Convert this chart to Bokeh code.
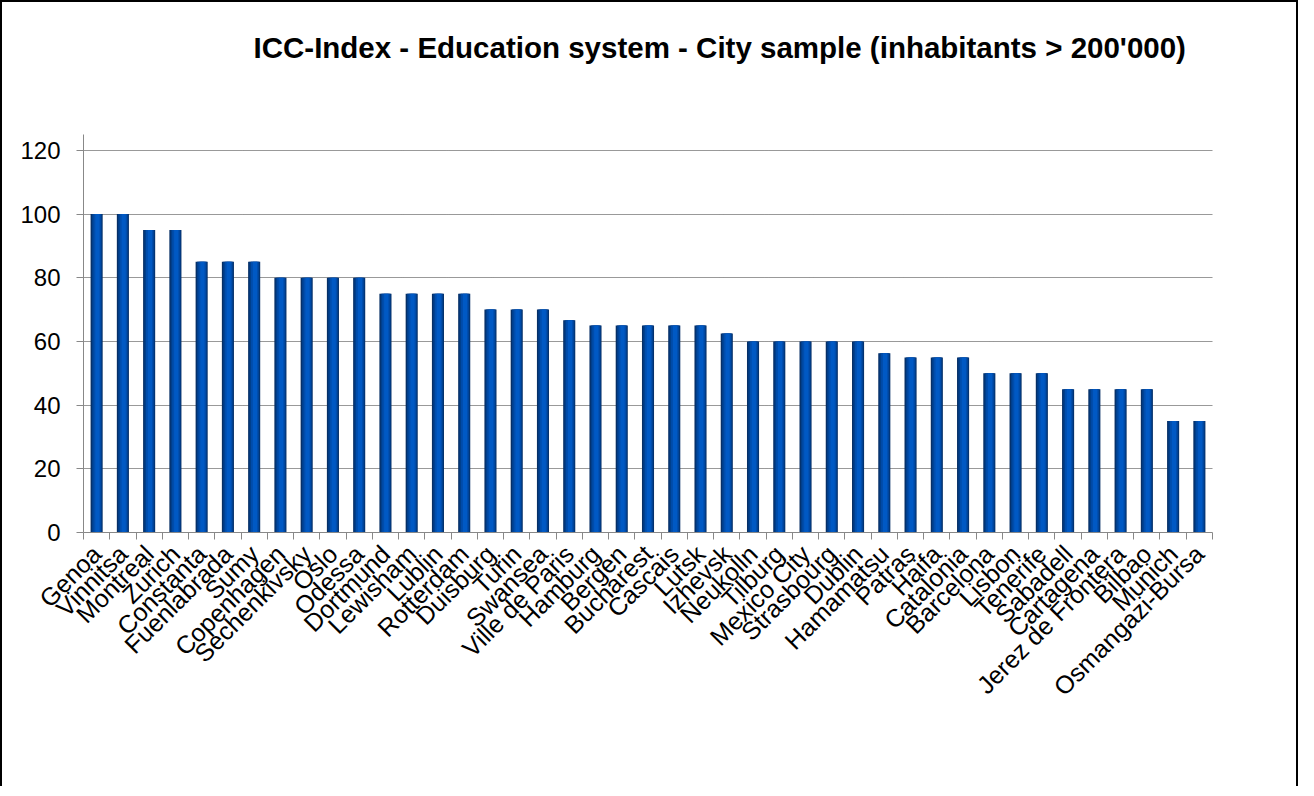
import math
from bokeh.plotting import figure
from bokeh.models import FixedTicker, Range1d, Title, ColumnDataSource
from bokeh.transform import dodge
from bokeh.embed import file_html
from bokeh.resources import INLINE

cities = ["Genoa", "Vinnitsa", "Montreal", "Zurich", "Constanta", "Fuenlabrada", "Sumy",
          "Copenhagen", "Sechenkivsky", "Oslo", "Odessa", "Dortmund", "Lewisham", "Lublin",
          "Rotterdam", "Duisburg", "Turin", "Swansea", "Ville de Paris", "Hamburg", "Bergen",
          "Bucharest", "Cascais", "Lutsk", "Izhevsk", "Neukolln", "Tilburg", "Mexico City",
          "Strasbourg", "Dublin", "Hamamatsu", "Patras", "Haifa", "Catalonia", "Barcelona",
          "Lisbon", "Tenerife", "Sabadell", "Cartagena", "Jerez de Frontera", "Bilbao",
          "Munich", "Osmangazi-Bursa"]
values = [100, 100, 95, 95, 85, 85, 85,
          80, 80, 80, 80, 75, 75, 75,
          75, 70, 70, 70, 66.7, 65, 65,
          65, 65, 65, 62.5, 60, 60, 60,
          60, 60, 56.3, 55, 55, 55, 50,
          50, 50, 45, 45, 45, 45,
          35, 35]
y_ticks = [0, 20, 40, 60, 80, 100, 120]
title_text = "ICC-Index - Education system - City sample (inhabitants > 200'000)"

n = len(cities)
centers = [i + 0.5 for i in range(n)]
src = ColumnDataSource(dict(x=centers, top=values))

FONT = "Liberation Sans"

p = figure(width=1298, height=786, output_backend="svg", toolbar_location=None,
           x_range=Range1d(0, n), y_range=Range1d(0, 125),
           min_border_left=81, min_border_right=88, min_border_top=132, min_border_bottom=256,
           background_fill_color="white", border_fill_color="white")
p.outline_line_color = None
p.styles = {"border-left": "2px solid black", "border-right": "2px solid black",
            "border-top": "2px solid black"}
p.title = None

# simulated cylinder-like shading with layered bars
layers = [(0.46, 0.0, "#062f66"), (0.38, 0.01, "#003f8c"),
          (0.28, 0.02, "#004dac"), (0.16, 0.03, "#0059c4")]
for w, off, col in layers:
    p.vbar(x=dodge("x", off), top="top", bottom=0, width=w, source=src,
           fill_color=col, line_color=None)

# spacer then title (later-added titles sit farther from the frame)
p.add_layout(Title(text=" ", text_font_size="49px", text_font=FONT), "above")
p.add_layout(Title(text=title_text, align="left", offset=170,
                   text_font=FONT, text_font_size="29.5px", text_font_style="bold",
                   text_color="black"), "above")

# y axis
p.yaxis.ticker = FixedTicker(ticks=y_ticks)
p.yaxis.axis_line_color = "#888888"
p.yaxis.major_tick_line_color = "#888888"
p.yaxis.major_tick_out = 7
p.yaxis.major_tick_in = 0
p.yaxis.minor_tick_line_color = None
p.yaxis.major_label_text_font = FONT
p.yaxis.major_label_text_font_size = "24px"
p.yaxis.major_label_text_color = "black"
p.yaxis.major_label_standoff = 16

# x axis
p.xaxis.ticker = FixedTicker(ticks=centers, minor_ticks=list(range(n + 1)))
p.xaxis.major_label_overrides = {c: name for c, name in zip(centers, cities)}
p.xaxis.major_label_orientation = math.pi / 4
p.xaxis.major_label_text_font = FONT
p.xaxis.major_label_text_font_size = "25px"
p.xaxis.major_label_text_color = "black"
p.xaxis.major_label_standoff = 10
p.xaxis.axis_line_color = "#888888"
p.xaxis.major_tick_line_color = None
p.xaxis.major_tick_out = 0
p.xaxis.major_tick_in = 0
p.xaxis.minor_tick_line_color = "#888888"
p.xaxis.minor_tick_out = 7
p.xaxis.minor_tick_in = 0

p.xgrid.grid_line_color = None
p.ygrid.ticker = FixedTicker(ticks=y_ticks[1:])
p.ygrid.grid_line_color = "#333333"
p.ygrid.grid_line_dash = "1 1"
p.ygrid.grid_line_width = 1

open("out.html", "w").write(file_html(p, INLINE))
